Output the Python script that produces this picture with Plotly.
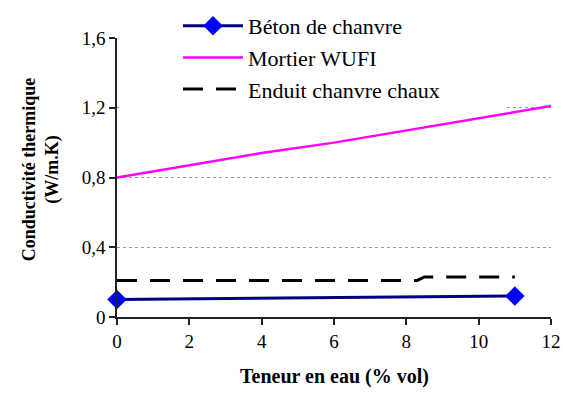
import plotly.graph_objects as go

# Data
beton_x = [0, 11]
beton_y = [0.10, 0.12]

mortier_x = [0, 2, 4, 6, 8, 10, 12]
mortier_y = [0.80, 0.87, 0.94, 1.00, 1.07, 1.14, 1.21]

enduit_x = [0, 8.3, 8.5, 11]
enduit_y = [0.21, 0.21, 0.23, 0.23]

x_ticks = [0, 2, 4, 6, 8, 10, 12]
y_ticks = [0, 0.4, 0.8, 1.2, 1.6]
y_ticklabels = ["0", "0,4", "0,8", "1,2", "1,6"]

x_title = "Teneur en eau (% vol)"
y_title = "Conductivité thermique<br>(W/m.K)"

FONT = "Liberation Serif"

fig = go.Figure()
fig.add_trace(go.Scatter(
    x=beton_x, y=beton_y, mode="lines+markers", name="Béton de chanvre",
    line=dict(color="#000080", width=3),
    marker=dict(symbol="diamond", size=15, color="#0000FF"),
    legendgroup="a", cliponaxis=False,
))
fig.add_trace(go.Scatter(
    x=mortier_x, y=mortier_y, mode="lines", name="Mortier WUFI",
    line=dict(color="#FF00FF", width=2.5),
    legendgroup="b",
))
fig.add_trace(go.Scatter(
    x=enduit_x, y=enduit_y, mode="lines", name="Enduit chanvre chaux",
    line=dict(color="#000000", width=3, dash="20px,13px"),
    legendgroup="c",
))

# white mask behind the legend (hides gridlines like the original)
fig.add_shape(type="rect", xref="paper", yref="paper",
              x0=0.005, x1=0.892, y0=0.745, y1=1.13,
              fillcolor="white", line=dict(width=0), layer="above")

# axis titles as annotations
fig.add_annotation(text="<b>" + x_title + "</b>", xref="paper", yref="paper",
                   x=0.5, y=-0.215, xanchor="center", yanchor="middle",
                   showarrow=False, font=dict(size=20, family=FONT))
fig.add_annotation(text="<b>" + y_title + "</b>", xref="paper", yref="paper",
                   x=-0.175, y=0.53, xanchor="center", yanchor="middle",
                   textangle=-90, showarrow=False,
                   font=dict(size=18, family=FONT))

fig.update_layout(
    width=563, height=394,
    margin=dict(l=117, r=12, t=38, b=77, autoexpand=False),
    paper_bgcolor="white", plot_bgcolor="white",
    font=dict(family=FONT, size=19, color="black"),
    showlegend=True,
    legend=dict(xref="container", yref="container",
                x=178 / 563, y=1 - 5 / 394, xanchor="left", yanchor="top",
                bgcolor="rgba(0,0,0,0)", font=dict(size=22, family=FONT),
                tracegroupgap=0, itemwidth=60),
    xaxis=dict(
        range=[0, 12], tickvals=x_ticks, ticktext=[str(v) for v in x_ticks],
        showline=True, linecolor="#222", linewidth=1.5,
        ticks="outside", ticklen=6, tickcolor="#222", tickwidth=1.5,
        showgrid=False, zeroline=False, automargin=False,
        tickfont=dict(size=19, family=FONT),
    ),
    yaxis=dict(
        range=[0, 1.6], tickvals=y_ticks, ticktext=y_ticklabels,
        showline=True, linecolor="#222", linewidth=1.5,
        ticks="outside", ticklen=6, tickcolor="#222", tickwidth=1.5,
        showgrid=True, gridcolor="#9a9a9a", gridwidth=1, griddash="dot",
        zeroline=False, automargin=False,
        tickfont=dict(size=19, family=FONT),
    ),
)

fig.write_html("out.html", config={"displayModeBar": False},
               post_script="document.body.style.margin='0';")
